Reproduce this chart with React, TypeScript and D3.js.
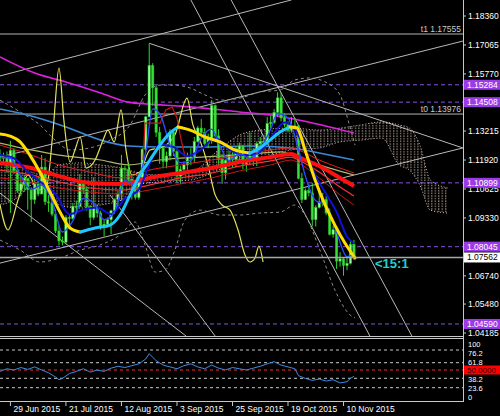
import React from "react";
import * as d3 from "d3";

// ---- EURUSD daily bars (bar index 0 = 24 Jun 2015) ----
const opens = [
  1.1215, 1.12, 1.1205, 1.1165, 1.1235, 1.1145, 1.1055, 1.1085, 1.111, 1.106,
  1.1015, 1.1085, 1.104, 1.116, 1.1005, 1.1, 1.095, 1.0875, 1.083, 1.0825,
  1.0935, 1.093, 1.0985, 1.0985, 1.1085, 1.106, 1.0985, 1.0935, 1.098, 1.0955,
  1.089, 1.0905, 1.0925, 1.0965, 1.1015, 1.104, 1.1155, 1.115, 1.1105, 1.1085,
  1.1025, 1.1115, 1.124, 1.1385, 1.1615, 1.1515, 1.1315, 1.1245, 1.1185, 1.121,
  1.1315, 1.123, 1.112, 1.115, 1.117, 1.1205, 1.1205, 1.1275, 1.1335, 1.1315,
  1.1265, 1.129, 1.1435, 1.13, 1.1195, 1.1135, 1.119, 1.1215, 1.1195, 1.124,
  1.1255, 1.1175, 1.1195, 1.121, 1.1195, 1.1265, 1.1275, 1.1275, 1.1355, 1.136,
  1.1405, 1.147, 1.138, 1.135, 1.1325, 1.1345, 1.1345, 1.111, 1.1015, 1.1055,
  1.1045, 1.0925, 1.098, 1.1005, 1.1015, 1.0955, 1.086, 1.088, 1.074, 1.075,
  1.072, 1.073, 1.0815,
];
const highs = [
  1.124, 1.1225, 1.123, 1.1278, 1.1245, 1.116, 1.112, 1.1125, 1.111, 1.107,
  1.111, 1.112, 1.1215, 1.12, 1.1035, 1.104, 1.097, 1.09, 1.085, 1.0945,
  1.0945, 1.1, 1.101, 1.113, 1.109, 1.1075, 1.099, 1.1115, 1.0995, 1.0965,
  1.0925, 1.0935, 1.097, 1.102, 1.1055, 1.1215, 1.1165, 1.1175, 1.1125, 1.1085,
  1.1125, 1.1245, 1.139, 1.1714, 1.1625, 1.1525, 1.134, 1.1265, 1.123, 1.133,
  1.133, 1.1245, 1.1165, 1.1185, 1.1225, 1.1245, 1.1295, 1.1345, 1.1375, 1.1335,
  1.131, 1.146, 1.144, 1.133, 1.122, 1.1195, 1.1245, 1.123, 1.1255, 1.127,
  1.126, 1.1205, 1.1315, 1.1245, 1.1275, 1.1295, 1.1305, 1.1385, 1.139, 1.142,
  1.1495, 1.1495, 1.14, 1.1365, 1.1385, 1.138, 1.135, 1.1135, 1.1065, 1.1085,
  1.109, 1.099, 1.1065, 1.1045, 1.103, 1.0975, 1.09, 1.089, 1.078, 1.0755,
  1.076, 1.0835, 1.0835,
];
const lows = [
  1.119, 1.117, 1.1135, 1.0955, 1.113, 1.1045, 1.103, 1.105, 1.097, 1.0915,
  1.0995, 1.103, 1.104, 1.099, 1.096, 1.094, 1.0865, 1.081, 1.081, 1.0815,
  1.0885, 1.0925, 1.0955, 1.098, 1.104, 1.0965, 1.09, 1.0925, 1.0935, 1.088,
  1.085, 1.089, 1.086, 1.095, 1.0975, 1.101, 1.1095, 1.109, 1.1015, 1.1015,
  1.1015, 1.1105, 1.1225, 1.1385, 1.1435, 1.1295, 1.1175, 1.1155, 1.1155, 1.119,
  1.121, 1.109, 1.1085, 1.1125, 1.1145, 1.117, 1.118, 1.127, 1.1305, 1.125,
  1.1245, 1.1265, 1.129, 1.117, 1.1085, 1.1105, 1.116, 1.116, 1.116, 1.119,
  1.115, 1.114, 1.117, 1.1165, 1.1165, 1.1235, 1.124, 1.1265, 1.1335, 1.1355,
  1.1385, 1.1365, 1.134, 1.1315, 1.1315, 1.133, 1.1105, 1.1, 1.1015, 1.103,
  1.0895, 1.0895, 1.0975, 1.0985, 1.0945, 1.0855, 1.0845, 1.0705, 1.0715, 1.0675,
  1.07, 1.0725, 1.0745,
];
const closes = [
  1.12, 1.1205, 1.1165, 1.1235, 1.1145, 1.1055, 1.1085, 1.111, 1.106, 1.1015,
  1.1085, 1.104, 1.116, 1.1005, 1.1, 1.095, 1.0875, 1.083, 1.0825, 1.0935,
  1.093, 1.0985, 1.0985, 1.1085, 1.106, 1.0985, 1.0935, 1.098, 1.0955, 1.089,
  1.0905, 1.0925, 1.0965, 1.1015, 1.104, 1.1155, 1.115, 1.1105, 1.1085, 1.1025,
  1.1115, 1.124, 1.1385, 1.1615, 1.1515, 1.1315, 1.1245, 1.1185, 1.121, 1.1315,
  1.123, 1.112, 1.115, 1.117, 1.1205, 1.1205, 1.1275, 1.1335, 1.1315, 1.1265,
  1.129, 1.1435, 1.13, 1.1195, 1.1135, 1.119, 1.1215, 1.1195, 1.124, 1.1255,
  1.1175, 1.1195, 1.121, 1.1195, 1.1265, 1.1275, 1.1275, 1.1355, 1.136, 1.1405,
  1.147, 1.138, 1.135, 1.1325, 1.1345, 1.1345, 1.111, 1.1015, 1.1055, 1.1045,
  1.0925, 1.098, 1.1005, 1.1015, 1.0955, 1.086, 1.088, 1.074, 1.075, 1.072,
  1.073, 1.0815, 1.07562,
];

// ---- indicator lines: [bar, price] ----
const magentaLine = [[0, 1.1653], [10, 1.1581], [19, 1.1541], [29, 1.1492], [37, 1.1451], [43, 1.1442], [52, 1.1433], [58, 1.1425], [69, 1.1407], [78, 1.1393], [86, 1.1371], [95, 1.134], [102, 1.1313]];
const steelLine = [[0, 1.142], [9, 1.1389], [19, 1.134], [29, 1.1281], [37, 1.1255], [46, 1.125], [58, 1.125], [72, 1.1255], [84, 1.1246], [92, 1.1223], [102, 1.1192]];
const khakiLine = [[0, 1.1268], [9, 1.1237], [17, 1.1214], [29, 1.1192], [37, 1.117], [46, 1.1192], [58, 1.1205], [69, 1.1214], [81, 1.1228], [86, 1.1201], [95, 1.1156], [102, 1.1125]];
const yellowThin = [[0, 1.0991], [2.3, 1.0879], [5.2, 1.1013], [8.1, 1.1125], [11, 1.1058], [13.5, 1.108], [15.3, 1.1326], [17, 1.1603], [18.4, 1.1371], [20.2, 1.1183], [21.6, 1.1237], [23.1, 1.1295], [24.8, 1.1156], [27.4, 1.1192], [29.7, 1.1281], [31.1, 1.1326], [32.9, 1.1273], [34.9, 1.1416], [36.3, 1.1237], [38, 1.1125], [40.3, 1.1138], [43.2, 1.1237], [46.1, 1.1246], [50.4, 1.1304], [53.9, 1.1469], [55.6, 1.1349], [57.6, 1.1281], [59.9, 1.117], [62, 1.1036], [64, 1.0991], [66.3, 1.0968], [68.6, 1.0879], [70.6, 1.0767], [72, 1.0736], [73.5, 1.0754], [74.6, 1.0807], [75.8, 1.0736]];
const trendMA = [[0, 1.1308], [2.9, 1.1299], [5.8, 1.1273], [8.6, 1.1214], [11.5, 1.1138], [14.4, 1.1049], [17.3, 1.0959], [20.2, 1.0888], [23.1, 1.087], [27.4, 1.0888], [31.7, 1.0901], [34.6, 1.0946], [37.5, 1.1036], [40.3, 1.1125], [43.2, 1.1192], [46.1, 1.1259], [49, 1.1313], [51.3, 1.134], [54.8, 1.1326], [59.1, 1.1295], [63.4, 1.1273], [67.7, 1.1237], [72, 1.1223], [74.9, 1.1246], [77.8, 1.1281], [80.7, 1.1317], [83.6, 1.134], [85.6, 1.1335], [87.9, 1.1237], [90.8, 1.1103], [93.7, 1.0991], [96.5, 1.0901], [99.4, 1.0821], [102.3, 1.0754]];
const redUpper = [[0, 1.1259], [9, 1.1214], [17, 1.117], [26, 1.1138], [35, 1.1112], [43, 1.1147], [52, 1.117], [61, 1.1192], [69, 1.1214], [78, 1.1237], [84, 1.1246], [86, 1.1237], [92, 1.1192], [98, 1.1156], [102, 1.1134]];
const redMain = [[0, 1.1179], [9, 1.1156], [17, 1.112], [26, 1.1089], [35, 1.1085], [43, 1.1112], [52, 1.1134], [61, 1.1156], [69, 1.1183], [78, 1.1205], [84, 1.1219], [86, 1.1205], [92, 1.1165], [98, 1.1112], [102, 1.1076]];
const redInner = [[0, 1.1147], [9, 1.1125], [17, 1.1094], [26, 1.1067], [35, 1.1058], [43, 1.108], [52, 1.1112], [61, 1.1134], [69, 1.1165], [78, 1.1188], [84, 1.1205], [86, 1.1192], [92, 1.1138], [98, 1.1071], [102, 1.1031]];
const redLower = [[0, 1.1112], [9, 1.1094], [17, 1.1067], [26, 1.1049], [35, 1.104], [43, 1.1058], [52, 1.1085], [61, 1.1112], [69, 1.1143], [78, 1.117], [84, 1.1192], [86, 1.1179], [92, 1.1112], [98, 1.1036], [102, 1.0991]];
const redStep = [[41.2, 1.1192], [41.8, 1.1357], [46.1, 1.1357], [47.8, 1.1416], [49.6, 1.1429], [51, 1.138], [52.2, 1.1281], [53.6, 1.1192]];
const blueFast = [[0, 1.1205], [3, 1.12], [6, 1.112], [9, 1.106], [12, 1.108], [15, 1.101], [18, 1.087], [21, 1.092], [24, 1.102], [27, 1.1], [30, 1.0925], [33, 1.096], [36, 1.11], [39, 1.108], [42, 1.123], [44, 1.142], [46, 1.14], [49, 1.126], [52, 1.118], [55, 1.119], [58, 1.129], [61, 1.133], [63, 1.127], [66, 1.119], [69, 1.122], [72, 1.12], [75, 1.124], [78, 1.133], [80, 1.14], [83, 1.138], [86, 1.124], [88, 1.112], [91, 1.101], [94, 1.099], [97, 1.087], [100, 1.076], [102, 1.077]];
const blueSlow = [[0, 1.1215], [4, 1.12], [8, 1.114], [12, 1.109], [16, 1.104], [20, 1.095], [24, 1.097], [28, 1.098], [32, 1.095], [36, 1.102], [40, 1.106], [43, 1.117], [46, 1.126], [50, 1.125], [54, 1.121], [58, 1.124], [62, 1.129], [66, 1.124], [70, 1.1215], [74, 1.122], [78, 1.129], [82, 1.136], [85, 1.133], [88, 1.123], [91, 1.112], [94, 1.104], [97, 1.096], [100, 1.085], [102, 1.082]];
const bandUpper = [[0, 1.146], [5.8, 1.1407], [11.5, 1.1349], [15.9, 1.1281], [20.2, 1.1237], [25.9, 1.1246], [31.7, 1.1281], [37.5, 1.1349], [41.8, 1.1483], [46.1, 1.1527], [50.4, 1.1527], [54.8, 1.1514], [59.1, 1.1483], [63.4, 1.146], [69.2, 1.1469], [74.9, 1.1496], [80.7, 1.1505], [85, 1.155], [89.3, 1.1559], [93.7, 1.1541], [98, 1.1483], [100.3, 1.1371], [102.3, 1.1259]];
const bandLower = [[0, 1.0834], [5.8, 1.0789], [11.5, 1.0736], [17.3, 1.0754], [23.1, 1.0789], [28.8, 1.0812], [34.6, 1.0857], [38.9, 1.0915], [41.8, 1.0812], [44.7, 1.0691], [47.6, 1.07], [50.4, 1.0789], [53.3, 1.0924], [57.6, 1.0968], [63.4, 1.0946], [69.2, 1.0946], [74.9, 1.0955], [80.7, 1.0959], [85, 1.0991], [87.9, 1.0946], [92.2, 1.0789], [96.5, 1.0611], [100.9, 1.0499], [102.3, 1.0486]];

// cloud (shifted 26 bars ahead): bar, upper edge, lower edge
const cloudBars = [0, 4, 9, 13, 17, 23, 29, 35, 39, 46, 55, 63, 69, 75, 84, 92, 98, 104, 110, 115, 118, 121, 124, 129];
const cloudTop = [1.1192, 1.117, 1.1138, 1.1125, 1.117, 1.1179, 1.117, 1.1156, 1.1138, 1.1125, 1.1138, 1.1237, 1.1304, 1.1326, 1.1335, 1.1326, 1.1335, 1.1349, 1.1362, 1.1349, 1.1335, 1.1259, 1.1103, 1.1067];
const cloudBottom = [1.0991, 1.1013, 1.108, 1.1103, 1.0991, 1.0977, 1.0991, 1.1013, 1.108, 1.1094, 1.1103, 1.1147, 1.1192, 1.1201, 1.1237, 1.1246, 1.1273, 1.1281, 1.129, 1.117, 1.1147, 1.108, 1.0968, 1.0955];

// hand-drawn trend lines: [start, end] as [bar, price]
const trendLines = [
  [[0, 1.1568], [84, 1.1908]],
  [[0, 1.1205], [133.4, 1.1724]],
  [[0, 1.0731], [133.4, 1.1246]],
  [[55, 1.1908], [106.6, 1.0405]],
  [[66.6, 1.1908], [118.7, 1.0405]],
  [[43, 1.1714], [133.4, 1.1246]],
  [[0, 1.1044], [53.6, 1.0405]],
  [[31.7, 1.1036], [62, 1.0405]],
];

// ---- levels & axis text ----
const priceTicks = [1.1836, 1.17065, 1.1577, 1.13215, 1.1192, 1.10625, 1.0933, 1.0674, 1.0548, 1.04185];
const levelPrices = [1.15284, 1.14508, 1.10899, 1.08045, 1.0459];
const targetPrices = [1.17555, 1.13976];
const targetNames = ["t1", "t0"];
const bidPrice = 1.07562;
const dateTickBars = [3, 19, 35, 51, 67, 83, 99];
const dateTickLabels = ["29 Jun 2015", "21 Jul 2015", "12 Aug 2015", "3 Sep 2015", "25 Sep 2015", "19 Oct 2015", "10 Nov 2015"];

// ---- lower oscillator panel ----
const oscLevels = [100, 76.2, 61.8, 50, 38.2, 23.6, 0];
const oscLine = [[0, 48], [2, 52], [4, 50], [6, 54], [8, 51], [10, 55], [12, 50], [14, 46], [16, 40], [17, 36], [18, 38], [20, 45], [22, 48], [24, 52], [26, 47], [28, 50], [30, 48], [32, 53], [34, 56], [36, 54], [38, 57], [40, 60], [42, 66], [43, 72], [45, 64], [47, 58], [49, 55], [51, 52], [53, 57], [55, 60], [57, 55], [59, 52], [61, 58], [63, 53], [65, 50], [67, 54], [69, 52], [71, 50], [73, 53], [75, 56], [77, 60], [79, 63], [81, 58], [83, 55], [85, 52], [86, 42], [88, 38], [90, 35], [92, 37], [94, 34], [96, 36], [98, 31], [100, 33], [101, 38], [102, 41]];

const W = 500;
const H = 416;
const AX = 463; // right price-axis position
const MAIN_B = 336;
const SUB_T = 338;
const SUB_B = 401;
const FONT = "'Liberation Sans', Arial, sans-serif";

const x = d3.scaleLinear().domain([0, 133.43]).range([0, AX]);
const y = d3.scaleLinear().domain([1.04185, 1.1836]).range([333, 16]);
const yOsc = d3.scaleLinear().domain([0, 23.6, 38.2, 50, 61.8, 76.2, 100]).range([396, 387.7, 378.3, 370, 362.7, 350, 343]);
// axis captions of the oscillator are spread so they stay readable
const yOscLabel = d3.scaleLinear().domain([0, 23.6, 38.2, 50, 61.8, 76.2, 100]).range([397, 388, 379, 370, 362, 353, 344]);

const smooth = d3.line<number[]>().x((d) => x(d[0])).y((d) => y(d[1])).curve(d3.curveMonotoneX);
const straight = d3.line<number[]>().x((d) => x(d[0])).y((d) => y(d[1]));
const oscPath = d3.line<number[]>().x((d) => x(d[0])).y((d) => yOsc(d[1]));

const cloudRows = cloudBars.map((b, k) => [b, cloudTop[k], cloudBottom[k]]);
const cloudArea = d3
  .area<number[]>()
  .x((d) => x(d[0]))
  .y0((d) => y(d[2]))
  .y1((d) => y(d[1]))
  .curve(d3.curveMonotoneX);

// split the trend MA into rising / falling runs
function directionRuns(pts: number[][]) {
  const runs: { up: boolean; pts: number[][] }[] = [];
  for (let k = 1; k < pts.length; k++) {
    const up = pts[k][1] >= pts[k - 1][1];
    const last = runs[runs.length - 1];
    if (last && last.up === up) last.pts.push(pts[k]);
    else runs.push({ up, pts: [pts[k - 1], pts[k]] });
  }
  return runs;
}

export default function App() {
  const fmt = d3.format(".5f");
  const runs = directionRuns(trendMA);
  const bodyW = 2.4;

  return (
    <svg width={W} height={H} style={{ position: "fixed", left: 0, top: 0, display: "block" }} fontFamily={FONT}>
      <defs>
        <clipPath id="mainClip">
          <rect x={0} y={0} width={AX} height={MAIN_B} />
        </clipPath>
        <clipPath id="subClip">
          <rect x={0} y={SUB_T} width={AX} height={SUB_B - SUB_T} />
        </clipPath>
        <pattern id="kumoDots" width={x(1) - x(0)} height={2.6} patternUnits="userSpaceOnUse">
          <rect x={1} y={0.4} width={1.1} height={1.1} fill="#f2dccc" />
        </pattern>
      </defs>
      <rect width={W} height={H} fill="#000" />

      <g clipPath="url(#mainClip)">
        {/* purple level lines */}
        {levelPrices.map((p) => (
          <line key={p} x1={0} x2={AX} y1={y(p)} y2={y(p)} stroke="#8452e0" strokeDasharray="4,3" strokeWidth={1} />
        ))}
        {/* target lines */}
        {targetPrices.map((p) => (
          <line key={p} x1={0} x2={AX} y1={y(p)} y2={y(p)} stroke="#b4b4b4" strokeWidth={1} />
        ))}
        {/* trend lines */}
        {trendLines.map((seg, k) => (
          <path key={k} d={straight(seg) || ""} stroke="#b8b8b8" strokeWidth={1} fill="none" />
        ))}
        {/* cloud */}
        <path d={cloudArea(cloudRows) || ""} fill="url(#kumoDots)" opacity={0.9} />
        <path d={smooth(cloudRows.map((r) => [r[0], r[1]])) || ""} stroke="#d8c0b0" strokeDasharray="1,2" fill="none" />
        <path d={smooth(cloudRows.map((r) => [r[0], r[2]])) || ""} stroke="#d8c0b0" strokeDasharray="1,2" fill="none" />
        {/* envelope bands */}
        <path d={smooth(bandUpper) || ""} stroke="#8c8c8c" strokeDasharray="3,3" fill="none" />
        <path d={smooth(bandLower) || ""} stroke="#8c8c8c" strokeDasharray="3,3" fill="none" />
        {/* slow averages */}
        <path d={smooth(magentaLine) || ""} stroke="#e020e0" strokeWidth={1.6} fill="none" />
        <path d={smooth(steelLine) || ""} stroke="#3a8ad8" strokeWidth={1.6} fill="none" />
        <path d={smooth(khakiLine) || ""} stroke="#b4b46a" strokeWidth={1.2} fill="none" />
        <path d={smooth(yellowThin) || ""} stroke="#e2e25a" strokeWidth={1.2} fill="none" />

        {/* candles */}
        {closes.map((c, i) => {
          const o = opens[i];
          const up = c >= o;
          const top = y(Math.max(o, c));
          const bot = y(Math.min(o, c));
          return (
            <g key={i}>
              <line x1={x(i)} x2={x(i)} y1={y(highs[i])} y2={y(lows[i])} stroke="#2fd52f" strokeWidth={1} />
              <rect
                x={x(i) - bodyW / 2}
                y={top}
                width={bodyW}
                height={Math.max(1, bot - top)}
                fill={up ? "#8cff8c" : "#3ddc3d"}
                stroke="#22c022"
                strokeWidth={0.5}
              />
            </g>
          );
        })}

        {/* red ribbon */}
        <path d={smooth(redUpper) || ""} stroke="#e02020" strokeWidth={1} fill="none" />
        <path d={smooth(redInner) || ""} stroke="#ff3030" strokeWidth={1.2} fill="none" />
        <path d={smooth(redLower) || ""} stroke="#c81414" strokeWidth={1} fill="none" />
        <path d={smooth(redMain) || ""} stroke="#ff1010" strokeWidth={4} fill="none" />
        <path d={straight(redStep) || ""} stroke="#d01010" strokeWidth={1.2} fill="none" />

        {/* fast blue averages */}
        <path d={smooth(blueSlow) || ""} stroke="#1010d8" strokeWidth={2} fill="none" />
        <path d={smooth(blueFast) || ""} stroke="#2a4cff" strokeWidth={1.4} fill="none" />

        {/* direction-coloured trend average */}
        {runs.map((r, k) => (
          <path key={k} d={smooth(r.pts) || ""} stroke={r.up ? "#1ec8ff" : "#ffdd00"} strokeWidth={3} fill="none" strokeLinecap="round" />
        ))}

        {/* bid line */}
        <line x1={0} x2={AX} y1={y(bidPrice)} y2={y(bidPrice)} stroke="#a8a8a8" strokeWidth={1.6} />

        {/* target captions */}
        {targetPrices.map((p, k) => (
          <text key={p} x={AX - 2} y={y(p) - 2.5} textAnchor="end" fontSize={8.5} fill="#c8c8c8">
            {`${targetNames[k]} ${fmt(p)}`}
          </text>
        ))}
        <text x={375} y={268} fontSize={13} fontWeight="bold" fill="#22d0d0">
          {"<15:1"}
        </text>
      </g>

      {/* frames */}
      <line x1={0} x2={AX} y1={MAIN_B + 0.5} y2={MAIN_B + 0.5} stroke="#c8c8c8" />
      <line x1={0} x2={AX} y1={SUB_T + 0.5} y2={SUB_T + 0.5} stroke="#c8c8c8" />
      <line x1={0} x2={AX} y1={SUB_B + 0.5} y2={SUB_B + 0.5} stroke="#c8c8c8" />
      <line x1={AX + 0.5} x2={AX + 0.5} y1={0} y2={SUB_B + 1} stroke="#c8c8c8" />

      {/* price axis */}
      {priceTicks.map((p) => (
        <g key={p}>
          <line x1={AX} x2={AX + 3} y1={y(p)} y2={y(p)} stroke="#c8c8c8" />
          <text x={AX + 5} y={y(p)} dy="0.35em" fontSize={8.5} fill="#fff">
            {fmt(p)}
          </text>
        </g>
      ))}
      {levelPrices.map((p) => (
        <g key={p}>
          <rect x={AX + 1} y={y(p) - 5} width={W - AX - 1} height={10} fill="#9b3ae6" />
          <text x={AX + 4} y={y(p)} dy="0.35em" fontSize={8.5} fill="#fff">
            {fmt(p)}
          </text>
        </g>
      ))}
      <rect x={AX + 1} y={y(bidPrice) - 5} width={W - AX - 1} height={10} fill="#fff" />
      <text x={AX + 4} y={y(bidPrice)} dy="0.35em" fontSize={8.5} fill="#000">
        {fmt(bidPrice)}
      </text>

      {/* oscillator panel */}
      <g clipPath="url(#subClip)">
        {oscLevels
          .filter((v) => v !== 0 && v !== 100)
          .map((v) => (
            <line
              key={v}
              x1={0}
              x2={AX}
              y1={yOsc(v)}
              y2={yOsc(v)}
              stroke={v === 50 ? "#ff2a2a" : "#c8c8c8"}
              strokeDasharray="3,3"
            />
          ))}
        <path d={oscPath(oscLine) || ""} stroke="#3a8ee6" strokeWidth={1} fill="none" />
      </g>
      {oscLevels.map((v) =>
        v === 50 ? (
          <g key={v}>
            <rect x={AX + 1} y={yOscLabel(v) - 4.5} width={W - AX - 1} height={9} fill="#ff0000" />
            <text x={AX + 4} y={yOscLabel(v)} dy="0.35em" fontSize={8} fill="#300">
              {v.toFixed(4)}
            </text>
          </g>
        ) : (
          <text key={v} x={AX + 5} y={yOscLabel(v)} dy="0.35em" fontSize={7.5} fill="#fff">
            {String(v)}
          </text>
        )
      )}

      {/* date axis */}
      {dateTickBars.map((b, k) => (
        <g key={b}>
          <line x1={x(b)} x2={x(b)} y1={SUB_B + 1} y2={SUB_B + 5} stroke="#c8c8c8" />
          <text x={x(b) + 3} y={412} fontSize={8.5} fill="#fff">
            {dateTickLabels[k]}
          </text>
        </g>
      ))}
    </svg>
  );
}
